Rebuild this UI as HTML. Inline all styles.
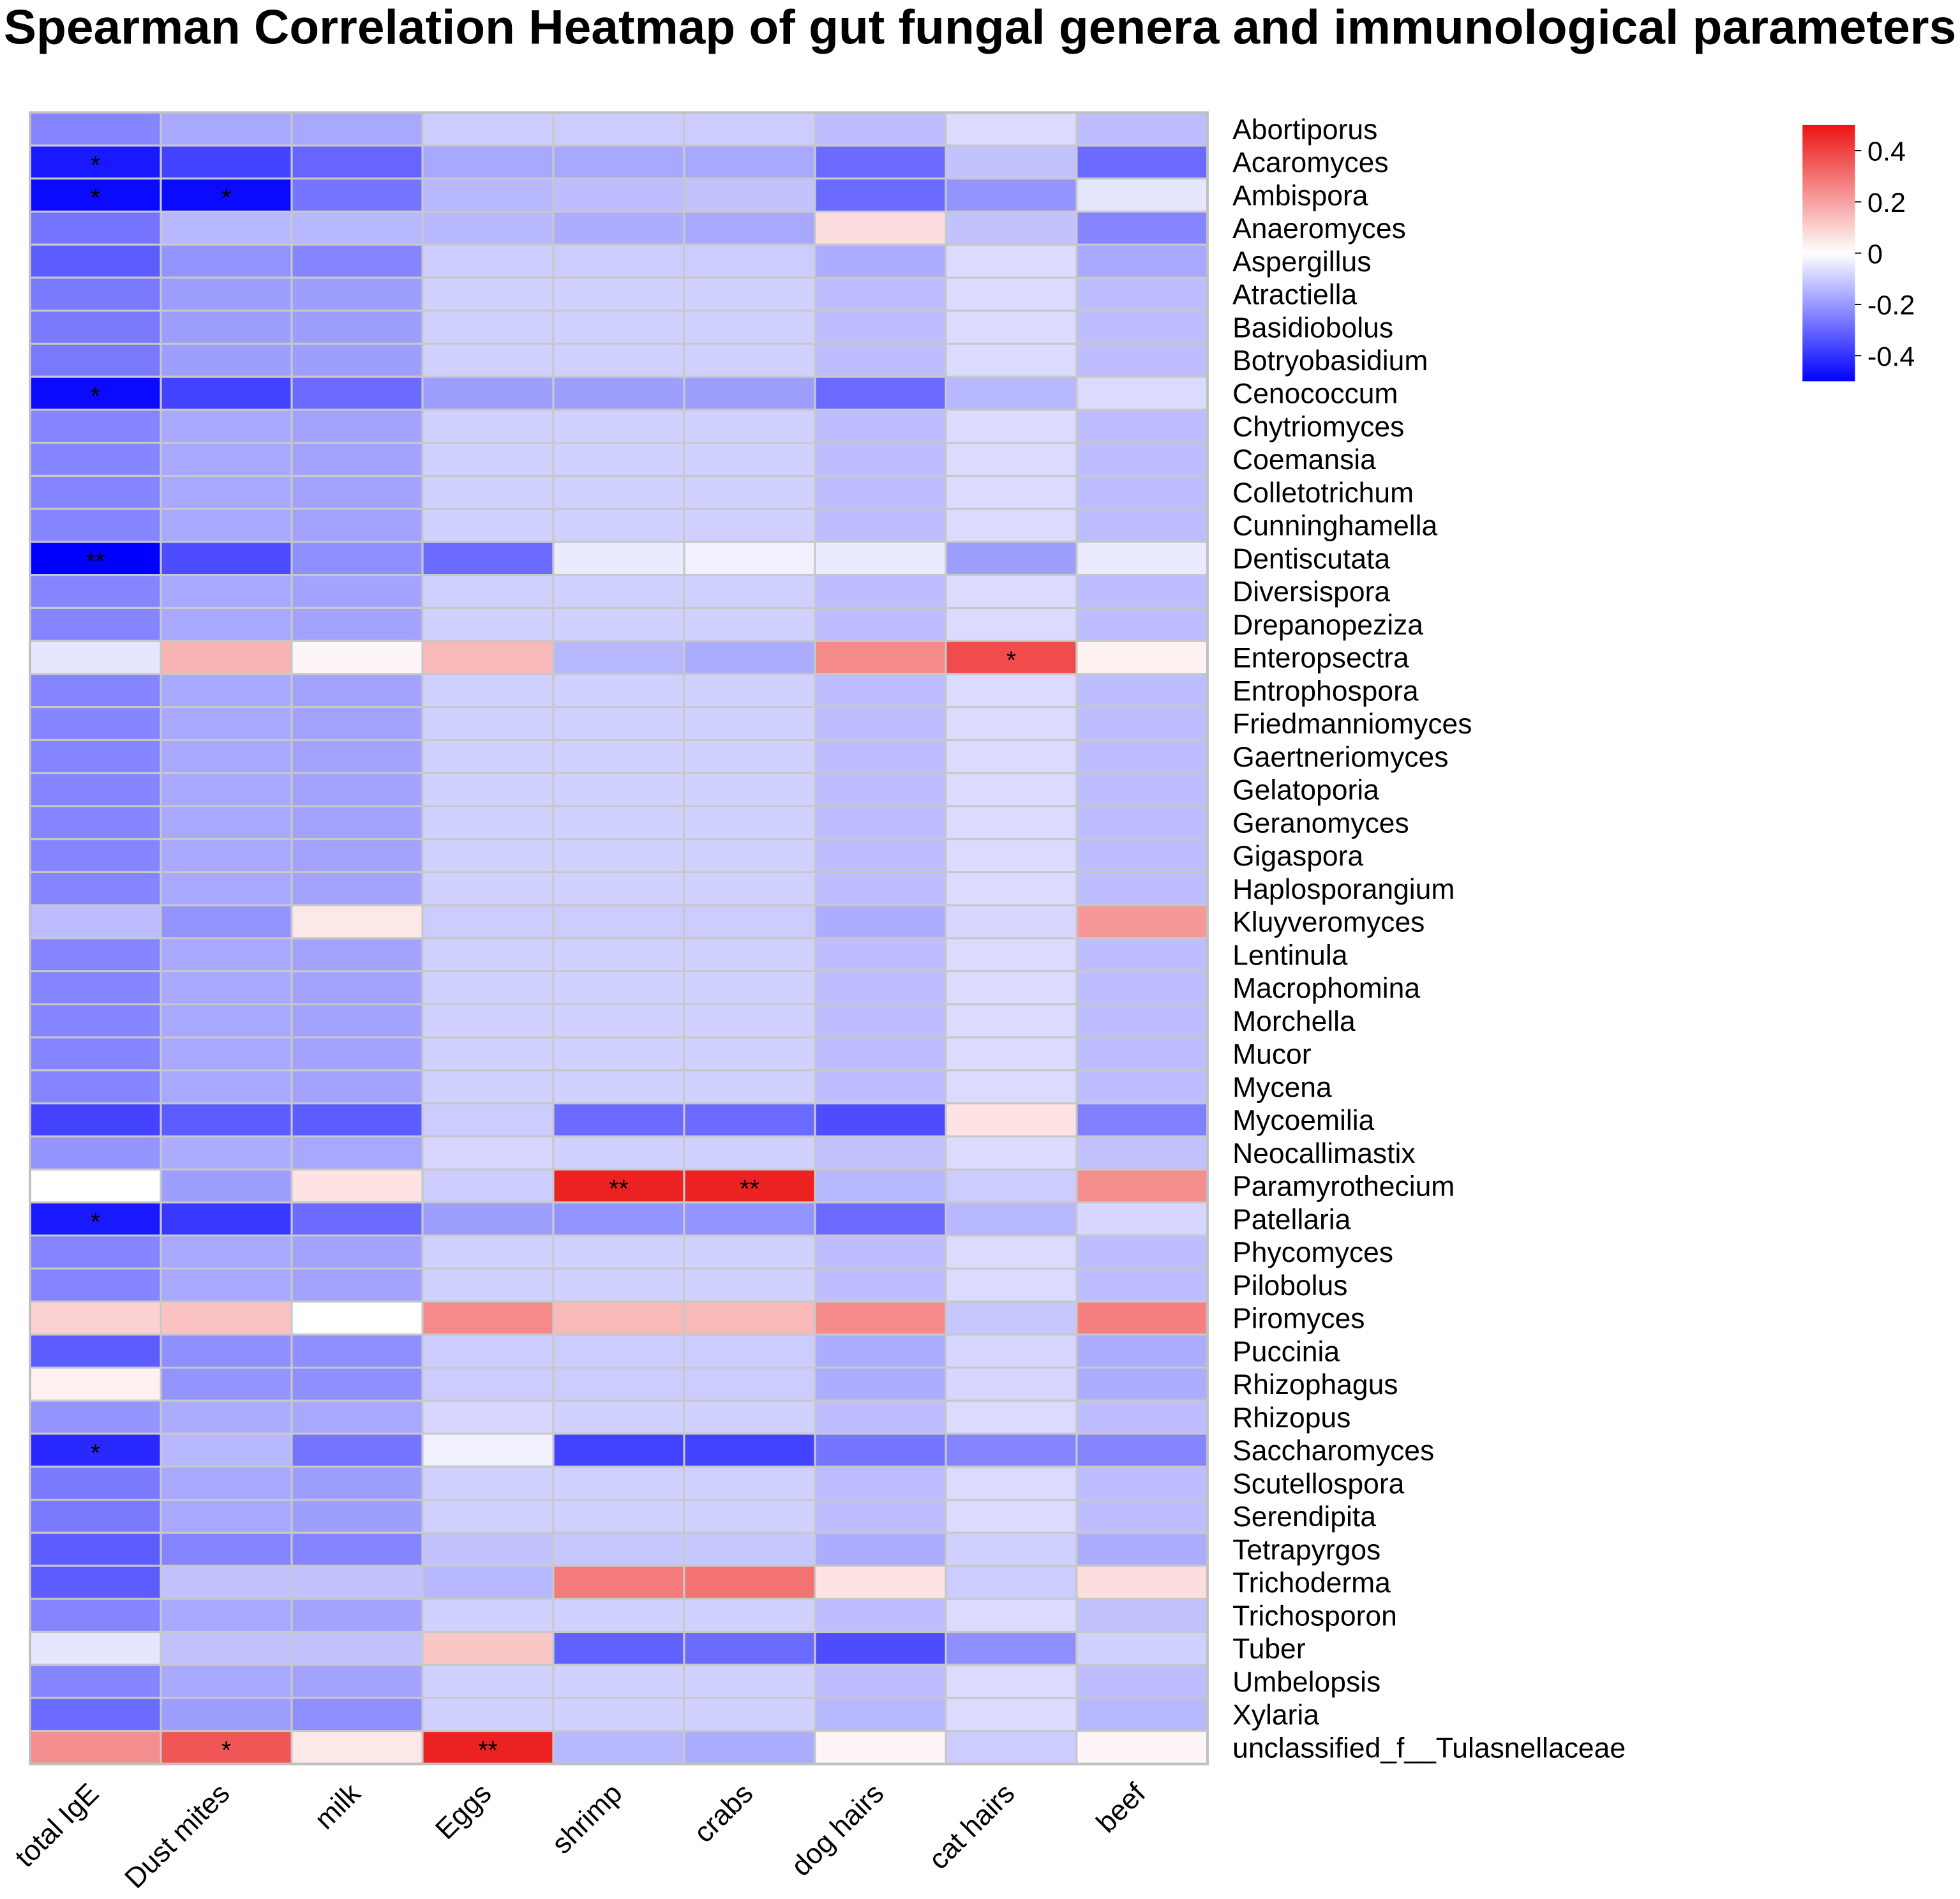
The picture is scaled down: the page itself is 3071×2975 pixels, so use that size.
<!DOCTYPE html>
<html><head><meta charset="utf-8">
<style>html,body{margin:0;padding:0;background:#fff;}svg{display:block;}</style>
</head><body>
<svg id="chart" width="3071" height="2975" viewBox="0 0 1568 1519" xmlns="http://www.w3.org/2000/svg" font-family="'Liberation Sans', sans-serif">
<text x="784" y="35" text-anchor="middle" font-size="39" font-weight="bold" textLength="1562" lengthAdjust="spacingAndGlyphs" fill="#000">Spearman Correlation Heatmap of gut fungal genera and immunological parameters</text>
<g id="cells"></g><g id="rowlabels"></g><g id="collabels"></g><g id="cbar"></g>
</svg>
<script>
const columns = ["total IgE","Dust mites","milk","Eggs","shrimp","crabs","dog hairs","cat hairs","beef"];
const genera = ["Abortiporus","Acaromyces","Ambispora","Anaeromyces","Aspergillus","Atractiella","Basidiobolus","Botryobasidium","Cenococcum","Chytriomyces","Coemansia","Colletotrichum","Cunninghamella","Dentiscutata","Diversispora","Drepanopeziza","Enteropsectra","Entrophospora","Friedmanniomyces","Gaertneriomyces","Gelatoporia","Geranomyces","Gigaspora","Haplosporangium","Kluyveromyces","Lentinula","Macrophomina","Morchella","Mucor","Mycena","Mycoemilia","Neocallimastix","Paramyrothecium","Patellaria","Phycomyces","Pilobolus","Piromyces","Puccinia","Rhizophagus","Rhizopus","Saccharomyces","Scutellospora","Serendipita","Tetrapyrgos","Trichoderma","Trichosporon","Tuber","Umbelopsis","Xylaria","unclassified_f__Tulasnellaceae"];
const T=[-0.24,-0.17,-0.18,-0.09,-0.09,-0.09,-0.13,-0.07,-0.13];
const values = [
[-0.24,-0.17,-0.17,-0.1,-0.1,-0.1,-0.13,-0.07,-0.13],
[-0.45,-0.37,-0.3,-0.17,-0.17,-0.17,-0.29,-0.12,-0.29],
[-0.48,-0.48,-0.27,-0.14,-0.13,-0.12,-0.29,-0.21,-0.05],
[-0.27,-0.14,-0.14,-0.14,-0.16,-0.17,0.07,-0.12,-0.24],
[-0.32,-0.21,-0.24,-0.1,-0.1,-0.1,-0.16,-0.07,-0.17],
[-0.26,-0.19,-0.19,-0.09,-0.09,-0.09,-0.13,-0.07,-0.13],
[-0.26,-0.19,-0.19,-0.09,-0.09,-0.09,-0.13,-0.07,-0.13],
[-0.26,-0.19,-0.19,-0.09,-0.09,-0.09,-0.13,-0.07,-0.13],
[-0.48,-0.37,-0.29,-0.19,-0.19,-0.19,-0.29,-0.14,-0.07],
T,T,T,T,
[-0.5,-0.35,-0.22,-0.29,-0.04,-0.03,-0.04,-0.19,-0.04],
T,T,
[-0.05,0.16,0.02,0.15,-0.14,-0.16,0.25,0.38,0.03],
T,T,T,T,T,T,T,
[-0.13,-0.21,0.05,-0.1,-0.1,-0.1,-0.16,-0.08,0.22],
T,T,T,T,T,
[-0.37,-0.32,-0.32,-0.1,-0.29,-0.29,-0.35,0.06,-0.25],
[-0.21,-0.16,-0.17,-0.08,-0.09,-0.09,-0.12,-0.07,-0.12],
[0.0,-0.19,0.06,-0.1,0.47,0.47,-0.14,-0.1,0.24],
[-0.45,-0.39,-0.29,-0.19,-0.21,-0.21,-0.29,-0.14,-0.08],
T,T,
[0.1,0.13,0.0,0.25,0.15,0.15,0.25,-0.11,0.27],
[-0.32,-0.22,-0.22,-0.1,-0.1,-0.1,-0.16,-0.08,-0.16],
[0.03,-0.21,-0.22,-0.1,-0.1,-0.1,-0.16,-0.08,-0.16],
[-0.21,-0.16,-0.17,-0.08,-0.09,-0.09,-0.13,-0.07,-0.13],
[-0.42,-0.14,-0.27,-0.03,-0.37,-0.37,-0.27,-0.24,-0.24],
[-0.26,-0.17,-0.19,-0.09,-0.09,-0.09,-0.13,-0.07,-0.13],
[-0.26,-0.17,-0.19,-0.09,-0.09,-0.09,-0.13,-0.07,-0.13],
[-0.32,-0.24,-0.24,-0.12,-0.11,-0.11,-0.16,-0.09,-0.16],
[-0.32,-0.12,-0.12,-0.14,0.28,0.3,0.06,-0.1,0.07],
[-0.24,-0.17,-0.18,-0.09,-0.09,-0.09,-0.13,-0.07,-0.12],
[-0.05,-0.12,-0.12,0.12,-0.31,-0.29,-0.35,-0.22,-0.09],
T,
[-0.29,-0.19,-0.22,-0.09,-0.09,-0.09,-0.14,-0.07,-0.14],
[0.24,0.36,0.05,0.47,-0.14,-0.16,0.02,-0.1,0.02]
];
// significance marks: [rowIndex, colIndex, label]
const sigRows = [1,2,2,8,13,16,32,32,33,40,49,49];
const sigCols = [0,0,1,0,0,7,4,5,0,0,1,3];
const sigLabels = ["*","*","*","*","**","*","**","**","*","*","*","**"];
const cbTicks = [0.4,0.2,0,-0.2,-0.4];
const cbTickLabels = ["0.4","0.2","0","-0.2","-0.4"];

const NS="http://www.w3.org/2000/svg";
const X0=24,X1=966,Y0=90,Y1=1411;
const cw=(X1-X0)/columns.length, rh=(Y1-Y0)/genera.length;
const xPos=i=>X0+i*cw, yPos=j=>Y0+j*rh;
function color(v){
  v=Math.max(-0.5,Math.min(0.5,v)); const t=Math.abs(v)/0.5;
  if(v<0){const c=Math.round(255*(1-t));return `rgb(${c},${c},255)`;}
  const g=Math.round(255-(255-20)*t), r=Math.round(255-(255-235)*t);
  return `rgb(${r},${g},${g})`;
}
function mk(tag,attrs,parent){const e=document.createElementNS(NS,tag);for(const k in attrs)e.setAttribute(k,attrs[k]);parent.appendChild(e);return e;}
const cells=document.getElementById('cells');
values.forEach((row,j)=>row.forEach((v,i)=>{
  const r=mk('rect',{x:xPos(i),y:yPos(j),width:cw,height:rh,fill:color(v),stroke:'#c8c8c8','stroke-width':1.6},cells);
  
  
}));
const border=mk('rect',{x:X0,y:Y0,width:X1-X0,height:Y1-Y0,fill:'none',stroke:'#c0c0c0','stroke-width':2},cells);


sigRows.forEach((r,k)=>{
  const t=mk('text',{x:xPos(sigCols[k])+cw/2,y:yPos(r)+rh/2+9,'text-anchor':'middle','font-size':20,fill:'#000'},cells);
  t.textContent=sigLabels[k];
  
  
});
const rl=document.getElementById('rowlabels');
genera.forEach((g,j)=>{
  const t=mk('text',{x:986,y:yPos(j)+rh/2+8,'font-size':22.7,fill:'#000'},rl);
  t.textContent=g;
  
  
});
const cl=document.getElementById('collabels');
columns.forEach((c,i)=>{
  const x=xPos(i)+cw/2+4,y=1436;
  const t=mk('text',{x:x,y:y,'font-size':22.7,'text-anchor':'end',fill:'#000',transform:`rotate(-45 ${x} ${y})`},cl);
  t.textContent=c;
  
  
});
const cb=document.getElementById('cbar');
const CBX=1442,CBW=42,CBT=100,CBB=305;
const cbY=v=>CBT+(0.5-v)/1.0*(CBB-CBT);
const defs=mk('defs',{},cb);
const lg=mk('linearGradient',{id:'cbg',x1:0,y1:0,x2:0,y2:1},defs);
[0.5,0.25,0,-0.25,-0.5].forEach((v,k)=>mk('stop',{offset:k/4,'stop-color':color(v)},lg));
const cr=mk('rect',{x:CBX,y:CBT,width:CBW,height:CBB-CBT,fill:'url(#cbg)'},cb);


cbTicks.forEach((v,k)=>{
  mk('line',{x1:CBX+CBW,x2:CBX+CBW+5,y1:cbY(v),y2:cbY(v),stroke:'#000','stroke-width':1},cb);
  const t=mk('text',{x:CBX+CBW+10,y:cbY(v)+8,'font-size':22,fill:'#000'},cb);
  t.textContent=cbTickLabels[k];
  
  
});
</script>
</body></html>
